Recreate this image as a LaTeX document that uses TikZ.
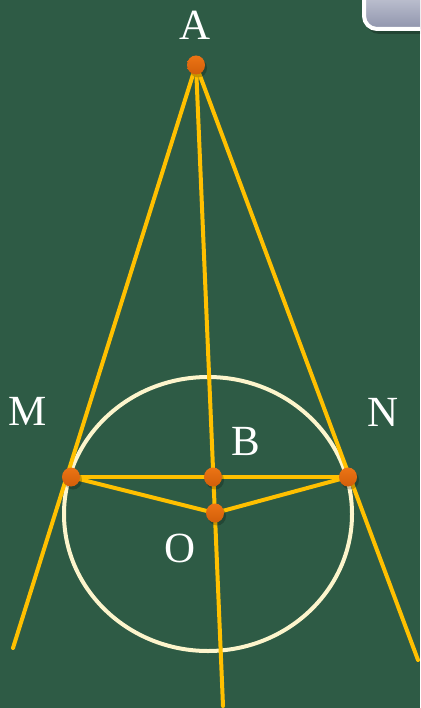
\documentclass[tikz,border=0pt]{standalone}
\usepackage{fontspec}
\setmainfont{Liberation Serif}
\usetikzlibrary{shapes.geometric}
\definecolor{board}{HTML}{2E5B45}
\definecolor{gold}{HTML}{FFC000}
\definecolor{cream}{HTML}{FDF5CC}
\definecolor{dotc}{HTML}{D25E0A}
\definecolor{dotl}{HTML}{EC7414}
\definecolor{btntop}{HTML}{E4E6EE}
\definecolor{btnbot}{HTML}{8F94AC}
\tikzset{
  seg/.style={gold, line width=4pt, line cap=round},
  circ/.style={cream, line width=4pt},
  pt/.style={ellipse, minimum width=18pt, minimum height=19pt, inner sep=0pt,
    top color=dotl, bottom color=dotc, draw=none},
  ptshadow/.style={ellipse, minimum width=18pt, minimum height=19pt, inner sep=0pt,
    fill=black, opacity=0.22},
  lab/.style={text=white, font=\fontsize{43}{43}\selectfont, inner sep=0pt}
}
\begin{document}
\begin{tikzpicture}[x=1pt, y=-1pt]
\fill[board] (0,0) rectangle (420,708);
\useasboundingbox (0,0) rectangle (420,708);
% top-right button
\begin{scope}
  \clip (0,0) rectangle (420,708);
  \fill[black, opacity=0.25, rounded corners=13pt] (366,-30) rectangle (450,34);
  \draw[white, line width=4pt, rounded corners=13pt, top color=btntop, bottom color=btnbot]
    (364,-30) rectangle (450,29);
\end{scope}
% points
\coordinate (A) at (196,65);
\coordinate (M) at (71,477);
\coordinate (N) at (348,477);
\coordinate (B) at (213,477);
\coordinate (O) at (215,513);
\coordinate (Me) at (13,648);
\coordinate (Ne) at (418,660);
\coordinate (Be) at (223,706);
% circle
\draw[circ] (208,514) ellipse [x radius=144, y radius=137];
% lines
\draw[seg] (A) -- (Me);
\draw[seg] (A) -- (Ne);
\draw[seg] (A) -- (Be);
\draw[seg] (M) -- (N);
\draw[seg] (M) -- (O);
\draw[seg] (N) -- (O);
% dots
\foreach \p in {A,M,N,B,O}{
  \node[ptshadow] at ([shift={(2,3)}]\p) {};
}
\node[pt] (pA) at (A) {};
\node[pt] (pM) at (M) {};
\node[pt] (pN) at (N) {};
\node[pt] (pB) at (B) {};
\node[pt] (pO) at (O) {};
% labels
\node[lab] (lA) at (195,25) {A};
\node[lab] (lM) at (28,411) {M};
\node[lab] (lN) at (383,412) {N};
\node[lab] (lB) at (246,441) {B};
\node[lab] (lO) at (180,548) {O};
\end{tikzpicture}
\end{document}
